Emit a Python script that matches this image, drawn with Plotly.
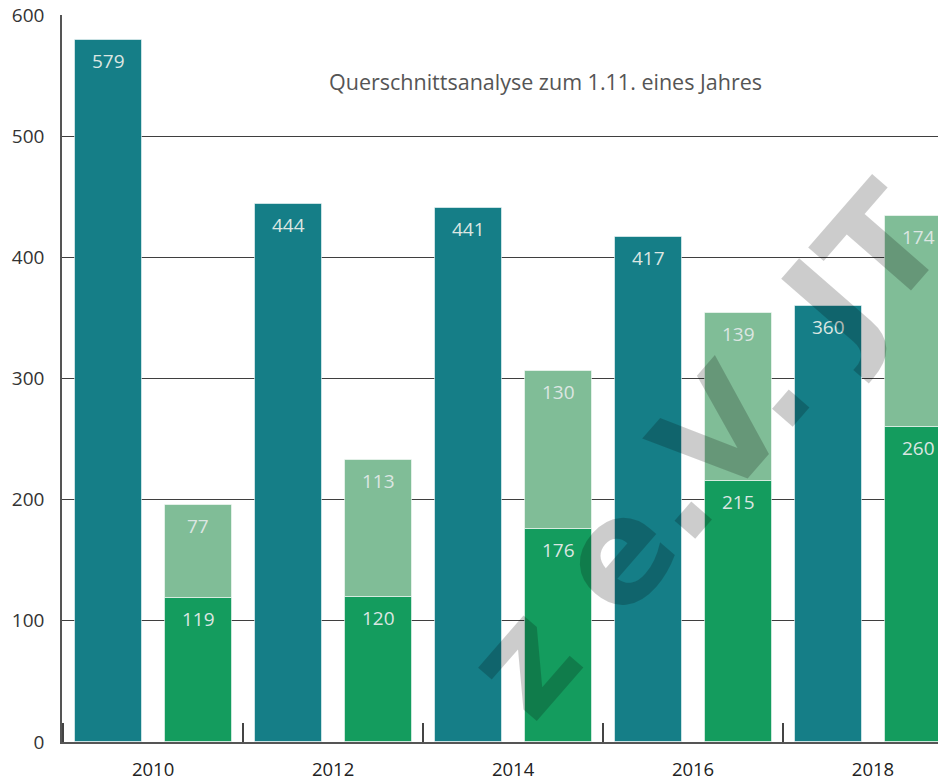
import plotly.graph_objects as go

# Stichtagswerte je Jahr (Querschnitt zum 1.11.)
years = ["2010", "2012", "2014", "2016", "2018"]
total_teal = [579, 444, 441, 417, 360]
green_lower = [119, 120, 176, 215, 260]
green_upper = [77, 113, 130, 139, 174]

TEAL = "#157e87"
GREEN_DARK = "#149c5e"
GREEN_LIGHT = "#80bd97"
LABEL_COLOR = "#dce6e2"
FONT = "Open Sans"

BAR_W = 0.372
TEAL_OFF = -0.25 - BAR_W / 2
GREEN_OFF = 0.25 - BAR_W / 2

edge = dict(color="rgba(255,255,255,0.55)", width=1)

fig = go.Figure()
fig.add_trace(go.Bar(
    x=years, y=total_teal, width=BAR_W, offset=TEAL_OFF,
    marker=dict(color=TEAL, line=edge), showlegend=False, hoverinfo="y",
))
fig.add_trace(go.Bar(
    x=years, y=green_lower, width=BAR_W, offset=GREEN_OFF,
    marker=dict(color=GREEN_DARK, line=edge), showlegend=False, hoverinfo="y",
))
fig.add_trace(go.Bar(
    x=years, y=green_upper, base=green_lower, width=BAR_W, offset=GREEN_OFF,
    marker=dict(color=GREEN_LIGHT, line=edge), showlegend=False, hoverinfo="y",
))

# value labels just below the top of each segment
annotations = []
for i in range(len(years)):
    for xpos, top, val in (
        (i - 0.25, total_teal[i], total_teal[i]),
        (i + 0.25, green_lower[i], green_lower[i]),
        (i + 0.25, green_lower[i] + green_upper[i], green_upper[i]),
    ):
        annotations.append(dict(
            x=xpos, y=top, xref="x", yref="y", text=str(val), showarrow=False,
            yanchor="top", yshift=-6,
            font=dict(family=FONT, size=19, color=LABEL_COLOR),
        ))

annotations.append(dict(
    x=0.5525, y=0.908, xref="paper", yref="paper",
    text="Querschnittsanalyse zum 1.11. eines Jahres", showarrow=False,
    xanchor="center", yanchor="middle",
    font=dict(family=FONT, size=21.5, color="#555555"),
))

# diagonal watermark
annotations.append(dict(
    x=0.733, y=0.40, xref="paper", yref="paper",
    text="<b>z e.V. JT</b>", showarrow=False, textangle=-49,
    xanchor="center", yanchor="middle",
    font=dict(family="DejaVu Sans", size=145, color="rgba(0,0,0,0.2)"),
))

fig.update_layout(
    barmode="overlay",
    width=938, height=782,
    margin=dict(l=62, r=0, t=15, b=40),
    paper_bgcolor="white", plot_bgcolor="white",
    annotations=annotations,
    bargap=0,
)
fig.update_xaxes(
    type="category", range=[-0.506, 4.361], automargin=False,
    tickson="boundaries", ticks="inside", ticklen=19, tickwidth=1.5, tickcolor="#444444",
    showline=True, linecolor="#555555", linewidth=1.5,
    showgrid=False, ticklabelstandoff=10,
    tickfont=dict(family=FONT, size=18.5, color="#222222"),
)
fig.update_yaxes(
    range=[0, 600], dtick=100, automargin=False,
    showgrid=True, gridcolor="#3f3f3f", gridwidth=1.3,
    showline=True, linecolor="#555555", linewidth=1.5,
    zeroline=False, ticks="", ticklabelstandoff=12,
    tickfont=dict(family=FONT, size=19, color="#333333"),
)

fig.write_html("out.html")
